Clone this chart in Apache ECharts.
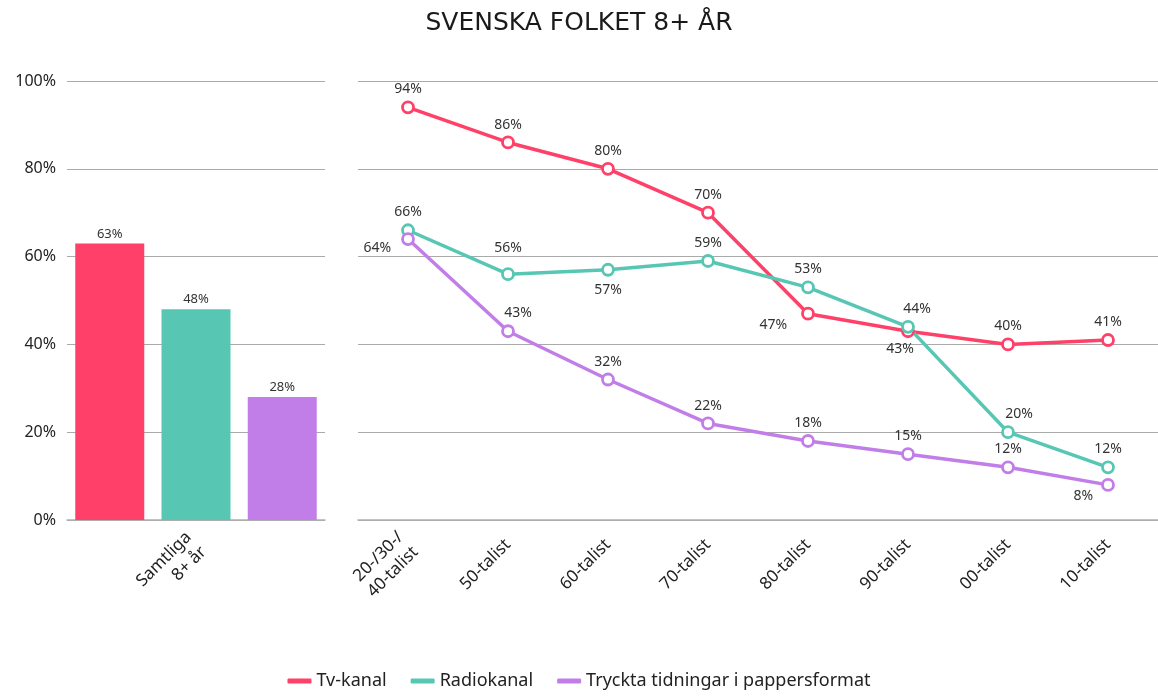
<!DOCTYPE html>
<html><head><meta charset="utf-8">
<script src="https://cdn.jsdelivr.net/npm/echarts@6/dist/echarts.min.js"></script>
<style>html,body{margin:0;padding:0;background:#fff}#c{width:1158px;height:697px}</style>
</head><body><div id="c"></div>
<script>
const seriesNames = ['Tv-kanal', 'Radiokanal', 'Tryckta tidningar i pappersformat'];
const colors = ['#FF4069', '#57C7B4', '#C17EE8'];
const barCategories = ['Samtliga\n8+ år'];
const barValues = [63, 48, 28];
const lineCategories = ['20-/30-/\n40-talist', '50-talist', '60-talist', '70-talist', '80-talist', '90-talist', '00-talist', '10-talist'];
const tvValues = [94, 86, 80, 70, 47, 43, 40, 41];
const radioValues = [66, 56, 57, 59, 53, 44, 20, 12];
const printValues = [64, 43, 32, 22, 18, 15, 12, 8];
const yTicks = [0, 20, 40, 60, 80, 100];

const FONT = 'Noto Sans';
const labelStyle = {color: '#333', fontSize: 14, fontFamily: FONT};

// per-point label placement (style only)
const tvLabelPos = [null, null, null, null, {position: 'left', distance: 14, offset: [0, 11]}, {position: 'bottom', offset: [-8, 0]}, null, null];
const radioLabelPos = [null, {position: 'top', distance: 12}, {position: 'bottom', distance: 6}, null, null, {position: 'top', offset: [9, 0]}, {position: 'top', offset: [11, 0]}, null];
const printLabelPos = [{position: 'left', distance: 10, offset: [0, 9]}, {position: 'top', offset: [10, 0]}, null, null, null, null, null, {position: 'left', distance: 8, offset: [0, 11]}];

function mkData(vals, pos) {
  return vals.map((v, i) => pos[i] ? {value: v, label: pos[i]} : v);
}

const chart = echarts.init(document.getElementById('c'));
const yAxisBase = {
  type: 'value', min: 0, max: 100, interval: 20,
  axisLine: {show: false}, axisTick: {show: false},
  splitLine: {lineStyle: {color: '#aaaaaa', width: 1}}
};
const xAxisBase = {
  type: 'category',
  axisLine: {lineStyle: {color: '#b0b0b0', width: 1.5}},
  axisTick: {show: false},
  axisLabel: {rotate: 45, color: '#222', fontSize: 17, fontFamily: FONT, interval: 0, margin: 22, lineHeight: 21}
};
const lineBase = {
  type: 'line', xAxisIndex: 1, yAxisIndex: 1,
  symbol: 'circle', symbolSize: 11, showAllSymbol: true,
  label: Object.assign({show: true, position: 'top', distance: 4, formatter: '{c}%'}, labelStyle)
};
function lineSeries(i, vals, pos) {
  return Object.assign({}, lineBase, {
    name: seriesNames[i], data: mkData(vals, pos),
    lineStyle: {width: 3.5, color: colors[i]},
    itemStyle: {color: '#ffffff', borderColor: colors[i], borderWidth: 2.8}
  });
}
chart.setOption({
  animation: false,
  color: colors,
  title: {text: 'SVENSKA FOLKET 8+ ÅR', left: 'center', top: 6,
    textStyle: {fontFamily: 'DejaVu Sans', fontSize: 25, fontWeight: 'normal', color: '#1a1a1a'}},
  legend: {
    bottom: 2, left: 'center', icon: 'roundRect', itemWidth: 24, itemHeight: 5, itemGap: 24,
    data: seriesNames.map((n, i) => ({name: n, itemStyle: {color: colors[i]}})),
    textStyle: {fontFamily: FONT, fontSize: 18, color: '#222'}
  },
  grid: [
    {left: 67, right: 1158 - 325, top: 81, bottom: 177},
    {left: 358, right: -4, top: 81, bottom: 177}
  ],
  xAxis: [
    Object.assign({}, xAxisBase, {gridIndex: 0, data: barCategories}),
    Object.assign({}, xAxisBase, {gridIndex: 1, data: lineCategories})
  ],
  yAxis: [
    Object.assign({}, yAxisBase, {gridIndex: 0,
      axisLabel: {formatter: v => yTicks.includes(v) ? v + '%' : '', color: '#222', fontSize: 16, fontFamily: FONT, margin: 11}}),
    Object.assign({}, yAxisBase, {gridIndex: 1, axisLabel: {show: false}})
  ],
  series: [
    ...seriesNames.map((n, i) => ({
      name: n, type: 'bar', xAxisIndex: 0, yAxisIndex: 0,
      barWidth: 69, barGap: '25%',
      itemStyle: {color: colors[i]},
      data: [barValues[i]],
      label: Object.assign({show: true, position: 'top', distance: 3, formatter: '{c}%'}, labelStyle, {fontSize: 13})
    })),
    lineSeries(0, tvValues, tvLabelPos),
    lineSeries(1, radioValues, radioLabelPos),
    lineSeries(2, printValues, printLabelPos)
  ]
});
</script></body></html>
